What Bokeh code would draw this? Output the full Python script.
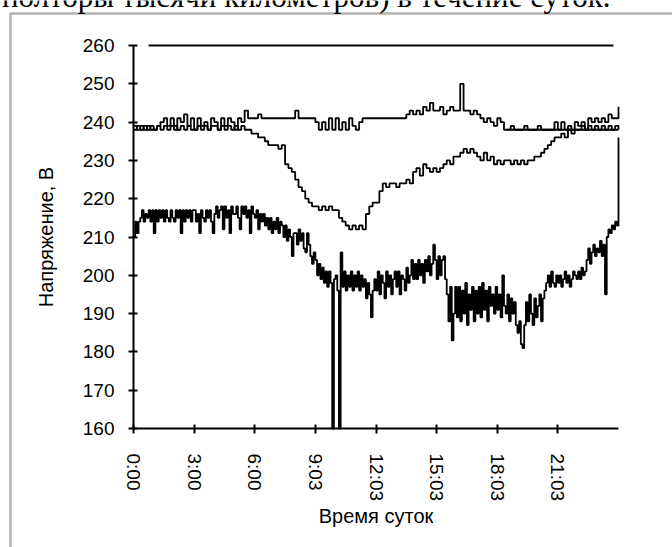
from bokeh.plotting import figure
from bokeh.models import FixedTicker, BoxAnnotation, Label
from bokeh.embed import file_html
from bokeh.resources import INLINE

# ---------------- data ----------------
y_ticks = [160, 170, 180, 190, 200, 210, 220, 230, 240, 250, 260]
x_ticks = [0, 3, 6, 9, 12, 15, 18, 21]
x_tick_labels = ["0:00", "3:00", "6:00", "9:03", "12:03", "15:03", "18:03", "21:03"]

# upper phase, 10-minute samples, 0:00 .. 24:00
phase_top = [
    238, 239, 238, 239, 238, 239,
    238, 239, 240, 241, 239, 241,
    238, 241, 240, 242, 239, 241,
    238, 241, 239, 240, 238, 241,
    240, 238, 241, 239, 241, 240,
    238, 241, 240, 243, 241, 241,
    241, 242, 241, 241, 241, 241,
    241, 241, 241, 241, 241, 241,
    243, 241, 241, 241, 241, 241,
    240, 238, 240, 238, 241, 238,
    241, 238, 240, 238, 241, 239,
    238, 240, 241, 241, 241, 241,
    241, 241, 241, 241, 241, 241,
    241, 241, 241, 242, 243, 242,
    243, 242, 244, 243, 245, 243,
    243, 244, 242, 243, 244, 243,
    243, 250, 243, 243, 242, 243,
    242, 241, 240, 241, 240, 239,
    241, 240, 238, 238, 239, 238,
    238, 238, 239, 238, 238, 238,
    239, 238, 238, 238, 238, 240,
    238, 240, 238, 239, 238, 240,
    239, 240, 238, 241, 240, 241,
    240, 241, 240, 242, 241, 241,
    244,
]

# middle phase, 10-minute samples
phase_mid = [
    239, 238, 239, 238, 239, 238,
    238, 239, 238, 239, 238, 239,
    239, 238, 239, 238, 239, 238,
    238, 239, 238, 239, 238, 239,
    239, 238, 239, 238, 239, 238,
    239, 238, 239, 238, 238, 237,
    237, 236, 236, 235, 234, 234,
    234, 233, 234, 229, 228, 227,
    225, 223, 222, 220, 219, 218,
    218, 217, 218, 217, 218, 217,
    217, 215, 214, 213, 212, 213,
    212, 213, 212, 216, 218, 219,
    219, 222, 224, 223, 224, 224,
    223, 224, 224, 225, 224, 227,
    228, 226, 229, 228, 227, 228,
    227, 228, 229, 230, 229, 231,
    231, 232, 233, 232, 233, 232,
    231, 230, 232, 230, 231, 229,
    230, 229, 230, 230, 229, 230,
    229, 230, 229, 230, 230, 231,
    231, 232, 233, 234, 235, 236,
    236, 237, 236, 238, 237, 238,
    238, 239, 238, 239, 238, 239,
    238, 239, 238, 239, 238, 239,
    238,
]

# lower phase, 5-minute samples
phase_low = [
    210, 214, 211, 214, 215, 217, 214, 216, 215, 217, 214, 217,
    211, 217, 214, 217, 215, 217, 214, 217, 215, 214, 217, 215,
    214, 217, 215, 217, 211, 217, 214, 217, 215, 217, 214, 217,
    217, 214, 216, 211, 217, 215, 214, 217, 215, 217, 214, 211,
    216, 218, 215, 217, 218, 212, 218, 215, 217, 211, 218, 216,
    216, 218, 215, 212, 218, 216, 218, 215, 217, 211, 218, 216,
    215, 217, 212, 216, 214, 216, 213, 215, 212, 215, 211, 214,
    212, 215, 211, 214, 213, 210, 213, 209, 212, 210, 205, 211,
    211, 208, 212, 209, 211, 207, 206, 211, 208, 205, 203, 206,
    204, 200, 203, 199, 202, 198, 201, 197, 201, 198, 160, 199,
    200, 196, 160, 206, 197, 201, 196, 200, 197, 201, 196, 200,
    197, 201, 196, 200, 197, 199, 194, 198, 195, 189, 196, 199,
    196, 201, 195, 200, 198, 194, 201, 197, 200, 195, 199, 201,
    197, 201, 195, 200, 199, 196, 202, 198, 200, 204, 199, 203,
    199, 204, 200, 203, 198, 204, 201, 205, 200, 203, 208, 204,
    199, 205, 200, 204, 205, 199, 195, 188, 197, 183, 190, 197,
    189, 197, 188, 196, 190, 198, 187, 195, 191, 197, 188, 196,
    190, 197, 189, 198, 191, 196, 188, 197, 192, 195, 190, 197,
    191, 195, 189, 200, 192, 190, 195, 188, 194, 190, 193, 187,
    185, 188, 182, 181, 187, 193, 188, 195, 190, 187, 194, 189,
    192, 195, 188, 194, 196, 198, 200, 197, 201, 198, 197, 200,
    198, 200, 197, 199, 201, 198, 200, 197, 199, 201, 200, 199,
    201, 199, 202, 200, 201, 204, 207, 203, 206, 208, 205, 207,
    206, 209, 205, 208, 195, 210, 212, 211, 213, 212, 214, 213,
    236,
]

limit_t = [0.75, 23.75]
limit_v = [260, 260]
flat_t = [18.5, 24.0]
flat_v = [238, 238]

t_top = [i / 6 for i in range(len(phase_top))]
t_mid = [i / 6 for i in range(len(phase_mid))]
t_low = [i / 12 for i in range(len(phase_low))]

# ---------------- geometry (page pixels) ----------------
W, H = 672, 547
X0_PX, X1_PX = 133, 618      # 0:00 .. 24:00
Y0_PX, Y1_PX = 428, 45       # 160 .. 260 V
px_per_h = (X1_PX - X0_PX) / 24
px_per_v = (Y0_PX - Y1_PX) / 100

def hx(px):
    return (px - X0_PX) / px_per_h

def vy(py):
    return 160 + (Y0_PX - py) / px_per_v

p = figure(width=W, height=H,
           x_range=(hx(0), hx(W)), y_range=(vy(H), vy(0)),
           output_backend="svg", toolbar_location=None,
           min_border=0, min_border_left=0, min_border_right=0,
           min_border_top=0, min_border_bottom=0,
           margin=(0, 0, 0, 0))
p.outline_line_color = None
p.grid.visible = False
p.background_fill_color = "white"
p.border_fill_color = "white"

FONT = "Liberation Sans"

p.yaxis.ticker = FixedTicker(ticks=y_ticks)
p.xaxis.ticker = FixedTicker(ticks=x_ticks)
p.xaxis.major_label_overrides = {t: s for t, s in zip(x_ticks, x_tick_labels)}
p.xaxis.major_label_orientation = "vertical"
p.yaxis.fixed_location = 0
p.xaxis.fixed_location = 160
p.yaxis.bounds = (160, 260)
p.xaxis.bounds = (0, 24)

for ax in (p.xaxis[0], p.yaxis[0]):
    ax.axis_line_color = "black"
    ax.axis_line_width = 2
    ax.major_tick_line_color = "black"
    ax.major_tick_line_width = 2
    ax.major_tick_in = 4
    ax.major_tick_out = 5
    ax.minor_tick_line_color = None
    ax.major_label_text_font = FONT
    ax.major_label_text_font_size = "19px"
    ax.major_label_text_color = "black"
    ax.axis_label_text_font = FONT
    ax.axis_label_text_font_size = "20px"
    ax.axis_label_text_font_style = "normal"
    ax.axis_label_text_color = "black"

p.yaxis.major_label_standoff = 14
p.xaxis.major_label_standoff = 20
p.yaxis.axis_label = "Напряжение, В"
p.xaxis.axis_label = "Время суток"
p.yaxis.axis_label_standoff = 23
p.xaxis.axis_label_standoff = 1

lw = 1.8
p.line(limit_t, limit_v, line_color="black", line_width=2)
p.line(flat_t, flat_v, line_color="black", line_width=lw)
p.step(t_top, phase_top, mode="after", line_color="black", line_width=lw)
p.step(t_mid, phase_mid, mode="after", line_color="black", line_width=lw)
p.step(t_low, phase_low, mode="after", line_color="black", line_width=lw)

# frame of the scanned figure and the clipped caption line above it
p.add_layout(BoxAnnotation(left=hx(10), right=hx(W + 50), top=vy(13), bottom=vy(H + 50),
                           fill_color=None, fill_alpha=0, line_color="black", line_width=2.5))
p.add_layout(Label(x=hx(610), y=vy(-4), text="полторы тысячи километров) в течение суток.",
                   text_align="right", text_baseline="alphabetic",
                   text_font="Liberation Serif", text_font_size="31px", text_color="black"))

open("out.html", "w").write(file_html(p, INLINE))
